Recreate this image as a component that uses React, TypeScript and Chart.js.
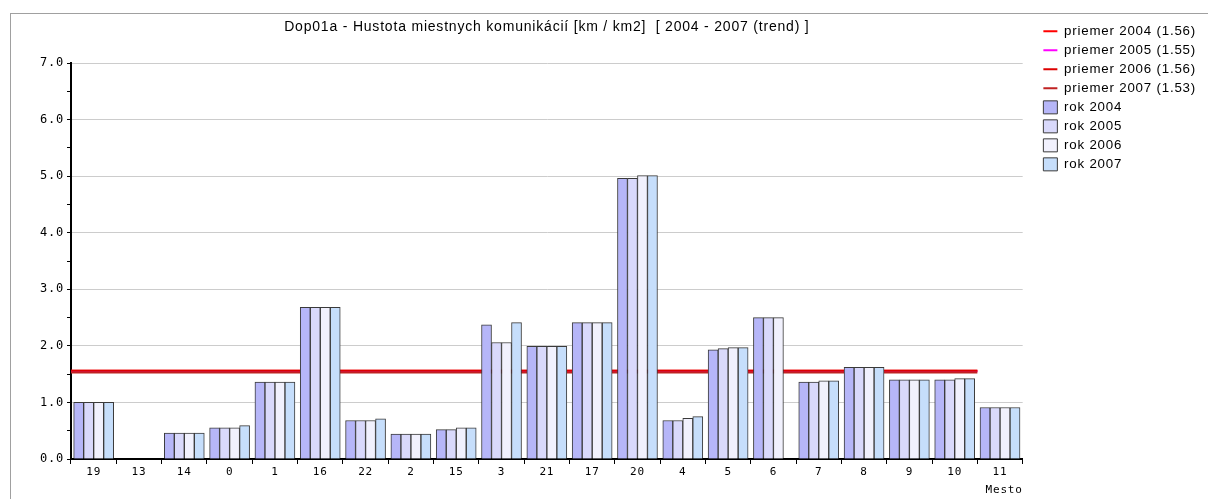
import React, { useEffect, useRef } from "react";
import { Chart, registerables } from "chart.js";

Chart.register(...registerables);

const chartTitle = "Dop01a - Hustota miestnych komunikácií [km / km2]  [ 2004 - 2007 (trend) ]";
const xAxisTitle = "Mesto";

const categories = ["19", "13", "14", "0", "1", "16", "22", "2", "15", "3", "21", "17", "20", "4", "5", "6", "7", "8", "9", "10", "11"];

const rok2004 = [1.0, null, 0.46, 0.55, 1.36, 2.68, 0.68, 0.44, 0.52, 2.37, 1.99, 2.41, 4.96, 0.68, 1.93, 2.5, 1.36, 1.62, 1.4, 1.4, 0.91];
const rok2005 = [1.0, null, 0.46, 0.55, 1.36, 2.68, 0.68, 0.44, 0.52, 2.06, 1.99, 2.41, 4.96, 0.68, 1.95, 2.5, 1.36, 1.62, 1.4, 1.4, 0.91];
const rok2006 = [1.0, null, 0.46, 0.55, 1.36, 2.68, 0.68, 0.44, 0.55, 2.06, 1.99, 2.41, 5.01, 0.72, 1.97, 2.5, 1.38, 1.62, 1.4, 1.42, 0.91];
const rok2007 = [1.0, null, 0.46, 0.59, 1.36, 2.68, 0.71, 0.44, 0.55, 2.41, 1.99, 2.41, 5.01, 0.75, 1.97, null, 1.38, 1.62, 1.4, 1.42, 0.91];

const years = ["2004", "2005", "2006", "2007"];
const averages = [1.56, 1.55, 1.56, 1.53];
const yTickLabels = ["0.0", "1.0", "2.0", "3.0", "4.0", "5.0", "6.0", "7.0"];

const barColors = ["#b6b6f8", "#d9d9fb", "#f1f1fd", "#c6defb"];
const avgColors = ["#ff0000", "#ff00ff", "#dd0000", "#c02222"];

const TICK_FONT = { family: "'DejaVu Sans Mono', monospace", size: 11 };
const Y_TICK_FONT = { family: "'DejaVu Sans Mono', monospace", size: 12 };
const SANS = "'Liberation Sans', Arial, sans-serif";

const spacingPlugin = {
  id: "spacing",
  beforeLayout(chart: any) {
    (chart.ctx as any).letterSpacing = "0.8px";
  },
  beforeDraw(chart: any) {
    (chart.ctx as any).letterSpacing = "0.8px";
  },
};

export default function App() {
  const ref = useRef<HTMLCanvasElement | null>(null);

  useEffect(() => {
    if (!ref.current) return;
    const barSeries = [rok2004, rok2005, rok2006, rok2007];
    // average lines run from the left boundary of the first category to the left boundary of the last one
    const lineStart = 0 - 0.5;
    const lineEnd = categories.length - 1 - 0.5;

    const barDatasets = barSeries.map((vals, i) => ({
      type: "bar" as const,
      label: `rok ${years[i]}`,
      data: vals,
      xAxisID: "x",
      yAxisID: "y",
      backgroundColor: barColors[i],
      borderColor: "#3a3a3a",
      borderWidth: 1,
      pointStyle: "rect",
      barThickness: 10,
      legendRank: 4 + i,
    }));

    // later datasets are painted first: keep the 2007 average on top of the other averages
    const lineDatasets = averages
      .map((avg, i) => ({
        type: "line" as const,
        label: `priemer ${years[i]} (${avg.toFixed(2)})`,
        parsing: false,
        data: [
          { x: lineStart, y: avg },
          { x: lineEnd, y: avg },
        ],
        xAxisID: "x",
        yAxisID: "y",
        borderColor: avgColors[i],
        backgroundColor: avgColors[i],
        borderWidth: 2,
        pointRadius: 0,
        pointStyle: "line",
        fill: false,
        legendRank: i,
      }))
      .reverse();

    const datasets: any[] = [...barDatasets, ...lineDatasets];

    const chart = new Chart(ref.current, {
      type: "bar",
      data: {
        labels: categories,
        datasets,
      },
      plugins: [spacingPlugin],
      options: {
        responsive: false,
        animation: false,
        layout: { padding: { top: 19, right: 2, bottom: 0, left: 0 } },
        plugins: {
          tooltip: { enabled: false },
          title: {
            display: true,
            text: chartTitle,
            position: "top",
            fullSize: false,
            color: "#000",
            font: { family: SANS, size: 14, weight: "normal" },
            padding: { top: 0, bottom: 27.2 },
          },
          legend: {
            display: true,
            position: "right",
            align: "start",
            fullSize: true,
            labels: {
              usePointStyle: true,
              pointStyleWidth: 14,
              boxHeight: 13,
              padding: 5.7,
              color: "#000",
              font: { family: SANS, size: 13.3 },
              sort: (a: any, b: any) => datasets[a.datasetIndex].legendRank - datasets[b.datasetIndex].legendRank,
            },
          },
        },
        scales: {
          x: {
            type: "category",
            position: "bottom",
            offset: true,
            afterFit: (s: any) => {
              s.height = 40;
            },
            grid: {
              offset: true,
              drawOnChartArea: false,
              drawTicks: true,
              tickLength: 5,
              tickColor: "#000",
              color: "#000",
            },
            border: { display: true, color: "#000", width: 2 },
            ticks: {
              autoSkip: false,
              maxRotation: 0,
              padding: 2,
              color: "#000",
              font: TICK_FONT,
            },
            title: {
              display: true,
              text: xAxisTitle,
              align: "end",
              color: "#000",
              font: TICK_FONT,
              padding: { top: 0, bottom: 2.4 },
            },
          },
          y: {
            type: "linear",
            position: "left",
            min: 0,
            max: yTickLabels.length - 1,
            afterFit: (s: any) => {
              s.width = 71;
            },
            grid: {
              color: (ctx: any) => (ctx.tick && Number.isInteger(ctx.tick.value) ? "#cccccc" : "rgba(0,0,0,0)"),
              tickColor: "#000",
              tickLength: 4,
              lineWidth: 1,
            },
            border: { display: true, color: "#000", width: 2 },
            ticks: {
              stepSize: 0.5,
              padding: 3,
              color: "#000",
              font: Y_TICK_FONT,
              callback: (v: any) => (Number.isInteger(v) ? yTickLabels[v] : ""),
            },
          },
          gap: {
            type: "linear",
            position: "right",
            display: true,
            afterFit: (s: any) => {
              s.width = 15;
            },
            grid: { display: false, drawOnChartArea: false },
            border: { display: false },
            ticks: { display: false },
          },
        },
      } as any,
    });
    return () => chart.destroy();
  }, []);

  return (
    <>
      <div
        style={{
          position: "fixed",
          left: 10,
          top: 13,
          right: 0,
          bottom: 0,
          borderTop: "1px solid #a0a0a0",
          borderLeft: "1px solid #a0a0a0",
        }}
      />
      <canvas
        ref={ref}
        width={1208}
        height={499}
        style={{ position: "fixed", left: 0, top: 0, width: 1208, height: 499 }}
      />
    </>
  );
}
